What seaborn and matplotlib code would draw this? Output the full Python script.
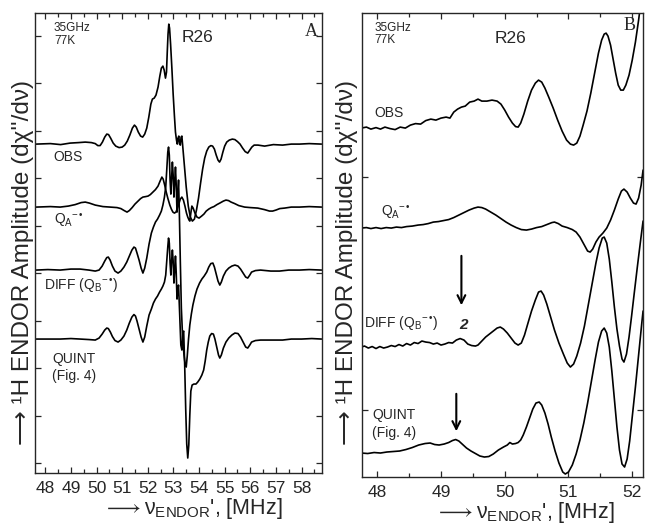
import numpy as np
import pandas as pd
import seaborn as sns
import matplotlib.pyplot as plt
from matplotlib.ticker import MultipleLocator

sns.set_style("ticks")
plt.rcParams["font.family"] = ["Liberation Sans", "DejaVu Sans"]
plt.rcParams["mathtext.fontset"] = "custom"
plt.rcParams["mathtext.rm"] = "Liberation Sans"
plt.rcParams["mathtext.it"] = "Liberation Sans:italic"
plt.rcParams["mathtext.fallback"] = "stixsans"

# spectra as (frequency MHz, amplitude above the trace baseline)

# ---- panel A : full spectra ----
a_obs = [(47.65, 0), (48.2, 0.05), (48.6, -0.05), (48.97, 0.1), (49.3, 0.15), (49.56, 0.2),
         (49.8, 0.15), (49.95, 0.05), (50.05, -0.15), (50.14, -0.15), (50.23, 0.2), (50.32, 0.7),
         (50.40, 1.0), (50.47, 0.95), (50.55, 0.6), (50.65, 0.1), (50.75, -0.2), (50.88, -0.35),
         (51.00, -0.3), (51.10, -0.1), (51.20, 0.3), (51.30, 0.9), (51.40, 1.6), (51.48, 1.9),
         (51.55, 1.7), (51.63, 1.2), (51.72, 0.8), (51.80, 0.7), (51.88, 1.0), (51.96, 1.6),
         (52.04, 2.7), (52.12, 4.0), (52.18, 4.5), (52.25, 4.6), (52.32, 4.9), (52.40, 5.7),
         (52.47, 6.8), (52.53, 7.6), (52.59, 7.8), (52.64, 7.4), (52.69, 6.6), (52.73, 7.2),
         (52.76, 9.2), (52.79, 11.0), (52.82, 12.0), (52.85, 11.6), (52.89, 10.0), (52.94, 7.6),
         (52.99, 5.0), (53.04, 2.8), (53.08, 1.2), (53.12, 0.4), (53.15, 0.0), (53.18, 0.6),
         (53.21, 0.8), (53.24, 0.0), (53.27, -0.1), (53.30, 0.7), (53.33, 0.8), (53.37, -0.4),
         (53.43, -2.2), (53.50, -4.3), (53.58, -6.2), (53.66, -7.3), (53.74, -7.7), (53.82, -7.5),
         (53.90, -6.6), (53.98, -5.4), (54.06, -3.9), (54.14, -2.5), (54.22, -1.4), (54.30, -0.7),
         (54.38, -0.3), (54.46, -0.15), (54.53, -0.2), (54.60, -0.5), (54.67, -1.1), (54.74, -1.6),
         (54.80, -1.8), (54.86, -1.5), (54.93, -0.8), (55.00, -0.2), (55.08, 0.2), (55.18, 0.4),
         (55.30, 0.5), (55.40, 0.45), (55.50, 0.25), (55.60, 0.0), (55.70, -0.4), (55.80, -0.75),
         (55.90, -0.9), (55.98, -0.6), (56.06, -0.3), (56.15, -0.1), (56.30, -0.1), (56.56, -0.2),
         (56.9, -0.05), (57.26, -0.1), (57.6, 0.0), (57.92, 0), (58.3, 0.05), (58.78, 0)]

a_qa = [(47.65, 0), (48.2, 0.05), (48.58, 0), (48.9, 0.1), (49.17, 0.25), (49.40, 0.45),
        (49.56, 0.5), (49.72, 0.4), (49.95, 0.2), (50.25, 0.05), (50.53, 0), (50.80, -0.05),
        (50.95, -0.15), (51.08, -0.35), (51.19, -0.5), (51.28, -0.35), (51.39, -0.05), (51.50, 0.3),
        (51.62, 0.6), (51.72, 0.85), (51.81, 1.0), (51.92, 1.05), (52.01, 1.1), (52.10, 1.25),
        (52.20, 1.5), (52.30, 1.75), (52.40, 2.1), (52.48, 2.6), (52.55, 3.0), (52.60, 2.8),
        (52.66, 2.2), (52.72, 1.5), (52.78, 0.9), (52.86, 0.2), (52.92, -0.2), (52.98, -0.5),
        (53.04, -0.6), (53.10, -0.5), (53.16, -0.1), (53.21, 0.3), (53.27, 0.8), (53.33, 1.0),
        (53.39, 0.7), (53.45, 0.1), (53.51, -0.6), (53.56, -1.0), (53.61, -1.3), (53.64, -1.4),
        (53.68, -0.6), (53.72, 0.1), (53.77, -0.1), (53.84, -0.6), (53.92, -1.0), (54.00, -1.1),
        (54.10, -0.9), (54.19, -0.7), (54.28, -0.4), (54.38, -0.2), (54.48, -0.05), (54.58, 0.05),
        (54.70, 0.25), (54.81, 0.4), (54.95, 0.6), (55.05, 0.7), (55.15, 0.65), (55.25, 0.5),
        (55.39, 0.35), (55.55, 0.15), (55.78, 0), (56.00, -0.05), (56.29, -0.1), (56.55, -0.25),
        (56.75, -0.4), (56.87, -0.4), (57.00, -0.3), (57.15, -0.15), (57.34, -0.1), (57.6, 0.0),
        (57.92, 0), (58.3, 0.05), (58.78, 0)]

a_diff = [(47.65, 0), (48.1, 0.05), (48.58, 0), (49.0, 0.1), (49.36, 0.1), (49.7, 0.0),
          (49.95, -0.1), (50.10, 0.0), (50.22, 0.4), (50.32, 0.9), (50.40, 1.25), (50.46, 1.3),
          (50.53, 1.0), (50.62, 0.4), (50.72, -0.1), (50.84, -0.3), (50.95, -0.1), (51.07, 0.3),
          (51.18, 0.8), (51.28, 1.4), (51.38, 2.0), (51.46, 2.3), (51.52, 2.2), (51.58, 1.7),
          (51.66, 1.0), (51.74, 0.2), (51.81, -0.3), (51.88, 0.2), (51.96, 1.2), (52.05, 2.6),
          (52.14, 3.7), (52.22, 4.3), (52.30, 4.8), (52.38, 5.1), (52.46, 5.5), (52.53, 5.9),
          (52.59, 6.5), (52.65, 7.3), (52.70, 8.3), (52.74, 10.0), (52.78, 11.8), (52.81, 12.3),
          (52.84, 11.5), (52.87, 9.0), (52.90, 7.6), (52.93, 9.2), (52.96, 10.8), (52.99, 9.5),
          (53.02, 7.3), (53.05, 8.8), (53.08, 10.3), (53.11, 8.5), (53.14, 5.8), (53.17, 7.5),
          (53.20, 9.0), (53.23, 6.0), (53.27, 0.8), (53.31, -3.8), (53.36, -6.8), (53.41, -8.4),
          (53.46, -9.5), (53.50, -9.7), (53.54, -8.6), (53.59, -6.9), (53.64, -5.5), (53.70, -4.4),
          (53.76, -3.5), (53.84, -2.6), (53.92, -1.9), (54.02, -1.3), (54.11, -0.9), (54.20, -0.6),
          (54.30, -0.2), (54.38, 0.3), (54.46, 0.65), (54.54, 0.7), (54.60, 0.3), (54.67, -0.4),
          (54.74, -1.1), (54.81, -1.5), (54.87, -1.2), (54.95, -0.6), (55.05, -0.1), (55.16, 0.2),
          (55.28, 0.4), (55.40, 0.5), (55.52, 0.4), (55.62, 0.1), (55.72, -0.3), (55.82, -0.7),
          (55.90, -0.8), (55.98, -0.5), (56.05, -0.2), (56.20, -0.05), (56.40, 0), (56.8, -0.1),
          (57.14, -0.1), (57.5, 0.0), (57.92, 0), (58.3, 0.05), (58.78, 0)]

a_quint = [(47.65, 0), (48.1, 0.0), (48.58, 0), (49.0, 0.05), (49.36, 0), (49.7, -0.05),
           (49.95, -0.1), (50.10, 0.1), (50.22, 0.5), (50.32, 0.9), (50.40, 1.1), (50.46, 1.05),
           (50.54, 0.7), (50.62, 0.25), (50.72, -0.15), (50.84, -0.3), (50.95, -0.1), (51.07, 0.3),
           (51.18, 0.9), (51.28, 1.6), (51.38, 2.2), (51.46, 2.45), (51.52, 2.3), (51.58, 1.8),
           (51.66, 1.0), (51.74, 0.2), (51.81, -0.3), (51.88, 0.2), (51.96, 1.3), (52.05, 2.4),
           (52.14, 3.0), (52.22, 3.6), (52.30, 4.0), (52.38, 4.3), (52.46, 4.7), (52.53, 5.0),
           (52.59, 5.3), (52.65, 5.7), (52.70, 6.4), (52.74, 7.8), (52.78, 9.2), (52.81, 10.1),
           (52.84, 9.6), (52.87, 7.6), (52.90, 6.4), (52.93, 7.8), (52.96, 8.9), (52.99, 7.8),
           (53.02, 5.6), (53.05, 6.9), (53.08, 8.3), (53.11, 6.6), (53.14, 4.0), (53.17, 4.9),
           (53.20, 5.4), (53.24, 2.8), (53.29, -0.6), (53.33, -1.1), (53.37, 0.6), (53.40, 0.8),
           (53.44, -2.6), (53.48, -7.0), (53.52, -10.5), (53.56, -11.9), (53.60, -10.6), (53.64, -7.6),
           (53.68, -5.2), (53.73, -4.6), (53.80, -4.5), (53.88, -4.5), (53.95, -4.3), (54.03, -4.0),
           (54.11, -3.6), (54.18, -3.1), (54.24, -2.2), (54.30, -1.1), (54.36, -0.3), (54.42, 0.3),
           (54.49, 0.55), (54.56, 0.5), (54.62, 0.0), (54.69, -0.8), (54.76, -1.6), (54.81, -1.9),
           (54.87, -1.6), (54.95, -0.9), (55.05, -0.3), (55.16, 0.1), (55.28, 0.4), (55.40, 0.6),
           (55.52, 0.55), (55.62, 0.2), (55.72, -0.3), (55.82, -0.8), (55.90, -0.9), (55.98, -0.6),
           (56.05, -0.3), (56.20, -0.15), (56.40, -0.1), (56.8, -0.1), (57.26, -0.1), (57.6, 0.0),
           (58.0, 0), (58.4, 0.05), (58.78, 0)]

# ---- panel B : expanded low-frequency part ----
b_obs = [(47.75, 0), (47.83, 0.1), (47.90, -0.1), (47.98, 0.05), (48.05, -0.1), (48.12, 0.1),
         (48.20, -0.05), (48.28, -0.15), (48.36, 0.1), (48.44, 0.0), (48.52, 0.3), (48.60, 0.45),
         (48.68, 0.4), (48.76, 0.75), (48.84, 0.9), (48.92, 0.8), (49.00, 1.0), (49.08, 1.1),
         (49.14, 1.0), (49.20, 1.6), (49.26, 1.9), (49.32, 2.1), (49.38, 2.2), (49.45, 2.6),
         (49.52, 2.7), (49.58, 2.9), (49.64, 2.7), (49.72, 2.7), (49.80, 2.8), (49.88, 2.7),
         (49.94, 2.4), (50.00, 1.8), (50.06, 1.1), (50.12, 0.5), (50.17, 0.15), (50.21, 0.1),
         (50.25, 0.5), (50.30, 1.4), (50.36, 2.7), (50.42, 3.8), (50.48, 4.5), (50.53, 4.8),
         (50.58, 4.6), (50.63, 4.0), (50.69, 3.1), (50.76, 2.0), (50.83, 0.8), (50.90, -0.3),
         (50.97, -1.2), (51.03, -1.6), (51.08, -1.7), (51.13, -1.5), (51.18, -0.8), (51.23, 0.3),
         (51.29, 1.7), (51.35, 3.5), (51.41, 5.5), (51.47, 7.5), (51.52, 8.8), (51.56, 9.4),
         (51.59, 9.5), (51.62, 9.2), (51.66, 8.3), (51.70, 6.9), (51.74, 5.5), (51.78, 4.3),
         (51.82, 3.8), (51.86, 3.8), (51.90, 4.3), (51.95, 5.3), (52.00, 6.8), (52.05, 8.6),
         (52.10, 10.8), (52.14, 12.8), (52.17, 14.5)]

b_qa = [(47.75, 0), (47.83, 0.05), (47.90, -0.05), (47.98, 0.05), (48.06, -0.05), (48.14, 0.05),
        (48.22, 0.0), (48.30, 0.1), (48.38, 0.05), (48.46, 0.15), (48.55, 0.2), (48.64, 0.3),
        (48.72, 0.35), (48.80, 0.45), (48.88, 0.6), (48.96, 0.65), (49.04, 0.75), (49.12, 0.85),
        (49.20, 1.05), (49.28, 1.3), (49.36, 1.55), (49.44, 1.8), (49.52, 2.0), (49.58, 2.1),
        (49.64, 2.05), (49.70, 1.9), (49.78, 1.6), (49.86, 1.3), (49.94, 0.95), (50.02, 0.6),
        (50.10, 0.3), (50.18, 0.05), (50.26, -0.15), (50.34, -0.2), (50.42, -0.1), (50.50, 0.05),
        (50.58, 0.15), (50.66, 0.35), (50.74, 0.55), (50.78, 0.6), (50.84, 0.45), (50.90, 0.2),
        (50.98, 0.05), (51.06, -0.15), (51.12, -0.4), (51.18, -0.9), (51.24, -1.6), (51.30, -2.3),
        (51.34, -2.4), (51.38, -2.1), (51.43, -1.4), (51.48, -0.9), (51.54, -0.5), (51.60, 0.0),
        (51.66, 0.8), (51.72, 1.8), (51.78, 2.9), (51.83, 3.7), (51.87, 3.9), (51.92, 3.6),
        (51.97, 3.0), (52.02, 2.5), (52.06, 2.4), (52.10, 3.0), (52.14, 4.3), (52.17, 5.8)]

b_diff = [(47.75, 0), (47.80, 0.1), (47.86, -0.1), (47.92, 0.05), (47.98, -0.15), (48.04, 0.05),
          (48.10, -0.1), (48.16, 0.0), (48.22, 0.15), (48.28, 0.05), (48.34, 0.25), (48.40, 0.1),
          (48.46, 0.35), (48.52, 0.2), (48.58, 0.45), (48.64, 0.35), (48.70, 0.6), (48.76, 0.5),
          (48.82, 0.45), (48.88, 0.3), (48.94, 0.4), (49.00, 0.2), (49.06, 0.3), (49.12, 0.45),
          (49.18, 0.4), (49.24, 0.7), (49.30, 0.85), (49.36, 0.7), (49.42, 0.3), (49.48, 0.15),
          (49.54, 0.1), (49.58, 0.2), (49.64, 0.6), (49.70, 1.0), (49.76, 1.3), (49.82, 1.6),
          (49.88, 1.9), (49.93, 2.0), (49.98, 1.8), (50.04, 1.4), (50.10, 0.9), (50.16, 0.4),
          (50.21, 0.2), (50.26, 0.4), (50.31, 1.2), (50.36, 2.3), (50.42, 3.6), (50.48, 4.7),
          (50.53, 5.5), (50.57, 5.6), (50.61, 5.2), (50.66, 4.3), (50.72, 3.0), (50.78, 1.7),
          (50.85, 0.4), (50.92, -0.7), (50.98, -1.6), (51.03, -2.0), (51.08, -1.7), (51.13, -0.9),
          (51.19, 0.4), (51.25, 2.1), (51.31, 4.2), (51.37, 6.3), (51.43, 8.4), (51.48, 9.9),
          (51.53, 10.9), (51.56, 11.0), (51.60, 10.4), (51.64, 8.8), (51.68, 6.5), (51.72, 4.0),
          (51.76, 1.8), (51.80, 0.1), (51.84, -1.2), (51.87, -1.5), (51.91, -0.7), (51.95, 1.0),
          (51.99, 3.1), (52.03, 5.3), (52.08, 8.0), (52.13, 10.6), (52.17, 12.6)]

b_quint = [(47.75, 0), (47.85, -0.05), (47.95, 0.05), (48.05, 0.0), (48.15, 0.1), (48.25, 0.15),
           (48.35, 0.2), (48.45, 0.35), (48.55, 0.55), (48.65, 0.8), (48.75, 0.95), (48.83, 1.0),
           (48.90, 0.85), (48.97, 0.8), (49.05, 0.9), (49.12, 1.05), (49.18, 1.25), (49.23, 1.35),
           (49.28, 1.2), (49.34, 0.85), (49.40, 0.5), (49.47, 0.2), (49.54, -0.05), (49.61, -0.3),
           (49.68, -0.4), (49.75, -0.35), (49.82, -0.1), (49.90, 0.3), (49.98, 0.6), (50.04, 0.8),
           (50.08, 1.05), (50.12, 0.9), (50.17, 0.95), (50.21, 1.05), (50.25, 1.3), (50.29, 1.8),
           (50.34, 2.6), (50.39, 3.5), (50.44, 4.4), (50.49, 5.0), (50.54, 5.1), (50.58, 4.8),
           (50.63, 4.0), (50.68, 2.9), (50.73, 1.6), (50.79, 0.2), (50.85, -1.0), (50.91, -1.9),
           (50.95, -2.1), (51.00, -1.9), (51.06, -1.2), (51.12, -0.1), (51.18, 1.3), (51.24, 3.0),
           (51.30, 5.0), (51.36, 7.2), (51.42, 9.4), (51.47, 11.1), (51.52, 12.2), (51.56, 12.5),
           (51.60, 12.0), (51.64, 10.6), (51.68, 8.2), (51.72, 5.4), (51.76, 2.6), (51.80, 0.3),
           (51.84, -1.1), (51.88, -1.4), (51.92, -0.6), (51.96, 1.2), (52.00, 3.6), (52.05, 6.6),
           (52.10, 9.8), (52.15, 13.0), (52.17, 14.2)]

traces = ["OBS", "QA", "DIFF", "QUINT"]
a_offsets = [32.9, 26.6, 20.3, 13.4]
b_offsets = [34.9, 24.9, 13.0, 2.4]


def stack(spectra, offsets):
    frames = []
    for name, pts, off in zip(traces, spectra, offsets):
        d = pd.DataFrame(pts, columns=["mhz", "signal"])
        d["signal"] += off
        d["trace"] = name
        frames.append(d)
    return pd.concat(frames, ignore_index=True)


df_a = stack([a_obs, a_qa, a_diff, a_quint], a_offsets)
df_b = stack([b_obs, b_qa, b_diff, b_quint], b_offsets)

fig = plt.figure(figsize=(6.45, 5.25), dpi=100)
ax_a = fig.add_axes([0.0543, 0.099, 0.445, 0.876])
ax_b = fig.add_axes([0.5612, 0.0914, 0.4358, 0.8836])

for ax, df in [(ax_a, df_a), (ax_b, df_b)]:
    sns.lineplot(data=df, x="mhz", y="signal", units="trace", estimator=None,
                 sort=False, color="black", lw=1.2, legend=False, ax=ax)
    ax.set_ylabel("")
    ax.tick_params(direction="in", top=True, right=True, length=4, width=0.9,
                   labelsize=12.5, pad=6, labelleft=False)
    ax.tick_params(which="minor", direction="in", top=True, right=True, length=3, width=0.9)
    for s in ax.spines.values():
        s.set_linewidth(1.0)

ax_a.set_xlim(47.6, 58.8)
ax_a.set_ylim(0, 46)
ax_a.xaxis.set_major_locator(MultipleLocator(1))
ax_a.xaxis.set_minor_locator(MultipleLocator(0.5))
ax_a.set_yticks(np.arange(1.0, 44.5, 4.75))

ax_b.set_xlim(47.76, 52.17)
ax_b.set_ylim(0, 46.4)
ax_b.xaxis.set_major_locator(MultipleLocator(1))
ax_b.xaxis.set_minor_locator(MultipleLocator(0.5))
ax_b.set_yticks([6.7, 30.0])

xlab = "$\\longrightarrow\\mathrm{\\nu}_{\\mathrm{ENDOR}}$', [MHz]"
for ax, cx in [(ax_a, 0.55), (ax_b, 0.58)]:
    ax.set_xlabel(xlab, fontsize=15.5, labelpad=0)
    ax.xaxis.set_label_coords(cx, -0.05)

ylab = "⟶ ¹H ENDOR Amplitude (dχ''/dν)"
fig.text(0.036, 0.50, ylab, rotation=90, ha="center", va="center", fontsize=17.5)
fig.text(0.538, 0.50, ylab, rotation=90, ha="center", va="center", fontsize=17.5)

# panel annotations
for ax, x0, y0 in [(ax_a, 0.066, 0.967), (ax_b, 0.043, 0.968)]:
    ax.text(x0, y0, "35GHz", transform=ax.transAxes, fontsize=8.5, va="center")
    ax.text(x0, y0 - 0.027, "77K", transform=ax.transAxes, fontsize=8.5, va="center")

ax_a.text(0.512, 0.946, "R26", transform=ax_a.transAxes, fontsize=12.5, va="center")
ax_b.text(0.473, 0.946, "R26", transform=ax_b.transAxes, fontsize=12.5, va="center")
ax_a.text(0.94, 0.959, "A", transform=ax_a.transAxes, fontsize=13, va="center",
          family="Liberation Serif")
ax_b.text(0.932, 0.974, "B", transform=ax_b.transAxes, fontsize=13, va="center",
          family="Liberation Serif")

qa = "Q$_\\mathrm{A}$$^{-\\,•}$"
qb = "DIFF (Q$_\\mathrm{B}$$^{-\\,•}$)"
ax_a.text(0.063, 0.687, "OBS", transform=ax_a.transAxes, fontsize=10, va="center")
ax_a.text(0.066, 0.55, qa, transform=ax_a.transAxes, fontsize=10, va="center")
ax_a.text(0.031, 0.409, qb, transform=ax_a.transAxes, fontsize=10, va="center")
ax_a.text(0.06, 0.248, "QUINT", transform=ax_a.transAxes, fontsize=10, va="center")
ax_a.text(0.06, 0.211, "(Fig. 4)", transform=ax_a.transAxes, fontsize=10, va="center")

ax_b.text(0.043, 0.784, "OBS", transform=ax_b.transAxes, fontsize=10, va="center")
ax_b.text(0.068, 0.571, qa, transform=ax_b.transAxes, fontsize=10, va="center")
ax_b.text(0.007, 0.332, qb, transform=ax_b.transAxes, fontsize=10, va="center")
ax_b.text(0.036, 0.134, "QUINT", transform=ax_b.transAxes, fontsize=10, va="center")
ax_b.text(0.036, 0.095, "(Fig. 4)", transform=ax_b.transAxes, fontsize=10, va="center")
ax_b.text(49.28, 15.2, "2", fontsize=11, fontweight="bold", style="italic", va="center")

arrow = dict(arrowstyle="->", lw=1.5, color="black", mutation_scale=14)
ax_b.annotate("", xy=(49.32, 16.9), xytext=(49.32, 22.4), arrowprops=arrow)
ax_b.annotate("", xy=(49.24, 4.3), xytext=(49.24, 8.6), arrowprops=arrow)

fig.savefig("out.png", dpi=100)
